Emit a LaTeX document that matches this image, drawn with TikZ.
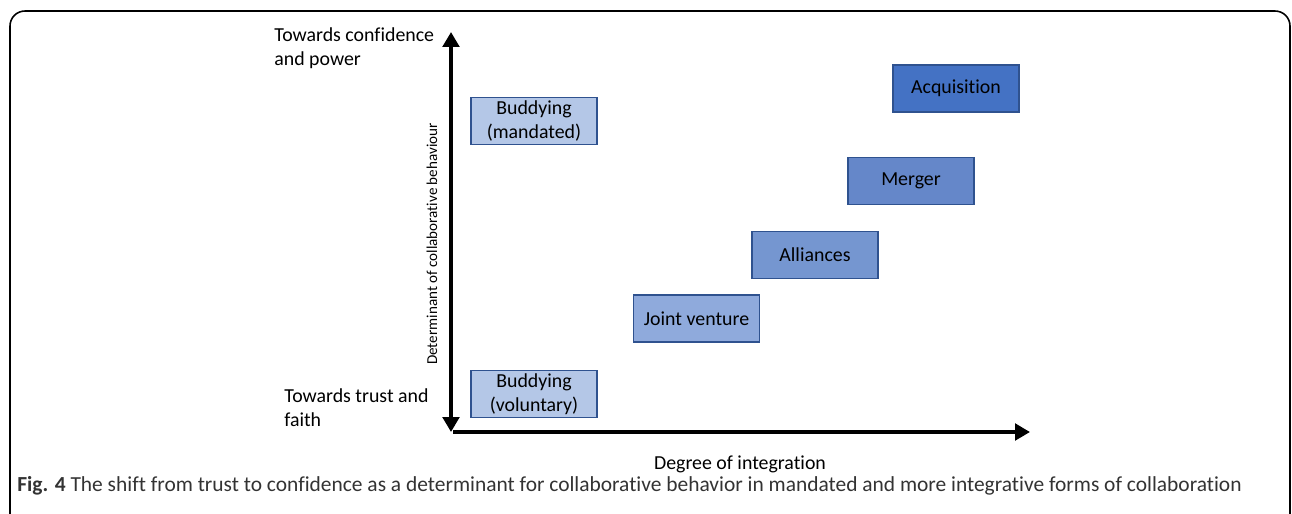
\documentclass[tikz,border=0pt]{standalone}
\usepackage{fontspec}
\setmainfont{Carlito}[Ligatures=NoCommon]
\usetikzlibrary{arrows.meta}

\definecolor{azulclaro}{RGB}{180,199,231}
\definecolor{azuljoint}{RGB}{143,170,220}
\definecolor{azulalianza}{RGB}{117,150,208}
\definecolor{azulmerger}{RGB}{101,135,201}
\definecolor{azuloscuro}{RGB}{68,114,196}
\definecolor{bordeazul}{RGB}{47,82,143}

\tikzset{
  caja/.style={draw=bordeazul, line width=0.6pt, minimum width=2.52cm, minimum height=0.94cm,
    inner sep=0pt, align=center, font=\fontsize{11.3}{13.6}\selectfont},
  etiqueta/.style={inner sep=0pt, align=left, font=\fontsize{11.3}{13.6}\selectfont},
  eje/.style={line width=2.8pt, {Triangle[length=0.3cm,width=0.33cm]}-{Triangle[length=0.3cm,width=0.33cm]}},
  ejeh/.style={line width=2.8pt, -{Triangle[length=0.3cm,width=0.33cm]}}
}

\begin{document}
\begin{tikzpicture}[x=0.02cm,y=-0.02cm]
            \useasboundingbox (0,0) rectangle (1292,514);
            \clip (0,0) rectangle (1292,514);

            % Marco
            \draw[line width=0.9pt, rounded corners=0.3cm] (10,11) rectangle (1290,560);

            % Ejes
            \coordinate (origen) at (451,432);
            \coordinate (arriba) at (451,32);
            \coordinate (derecha) at (1030,432);
            \draw[eje] (origen) -- (arriba);
            \draw[ejeh] (453,432) -- (derecha);

            % Etiquetas
            \node[etiqueta, anchor=north west] (confianza) at (274,27) {Towards confidence\\and power};
            \node[etiqueta, anchor=north west] (fe) at (284,388) {Towards trust and\\faith};
            \node[etiqueta] (integracion) at (740,464) {Degree of integration};
            \node[inner sep=0pt, rotate=90, font=\fontsize{8.6}{10}\selectfont] (determinante) at (432,244) {Determinant of collaborative behaviour};

            % Cajas
            \node[caja, fill=azulclaro] (mandado) at (534,121) {Buddying\\(mandated)};
            \node[caja, fill=azulclaro] (voluntario) at (534,394) {Buddying\\(voluntary)};
            \node[caja, fill=azuljoint] (joint) at (696.5,318.5) {Joint venture};
            \node[caja, fill=azulalianza] (alianzas) at (815,255) {Alliances};
            \node[caja, fill=azulmerger] (merger) at (911,181) {Merger};
            \node[caja, fill=azuloscuro] (adquisicion) at (956,88.5) {Acquisition};

            % Pie de figura
            \node[inner sep=0pt, anchor=base west, text=black!80, font=\fontsize{12.2}{15}\selectfont] (pie) at (17,491)
              {\textbf{Fig. 4} The shift from trust to confidence as a determinant for collaborative behavior in mandated and more integrative forms of collaboration};
        \end{tikzpicture}
\end{document}
